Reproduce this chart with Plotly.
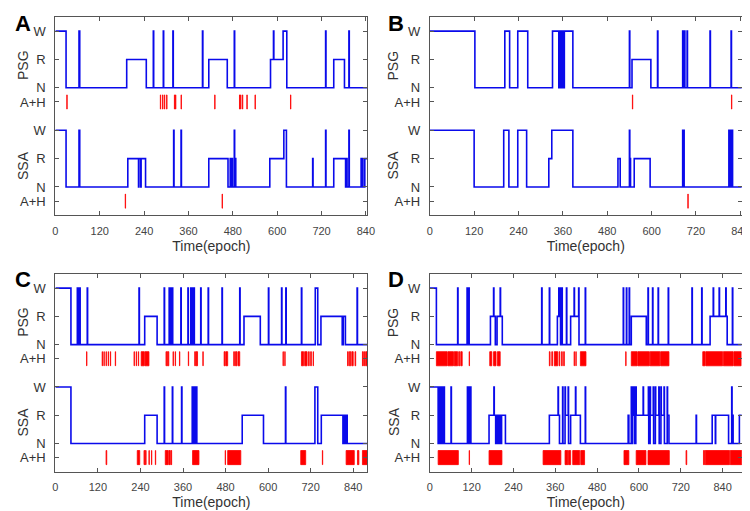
import plotly.graph_objects as go

# ---------------- DATA ----------------
# Hypnograms as change points (epoch, stage)
A_psg = [(0,'W'),(29,'N'),(64,'W'),(66,'N'),(193,'R'),(246,'N'),(265,'W'),(266,'N'),(292,'W'),(293,'N'),
         (318,'W'),(319,'N'),(398,'W'),(399,'N'),(415,'R'),(465,'N'),(484,'W'),(485,'N'),(582,'R'),(590,'W'),
         (591,'R'),(616,'W'),(626,'N'),(731,'W'),(732,'N'),(753,'R'),(782,'N'),(794,'W'),(795,'N')]
A_ssa = [(0,'W'),(29,'N'),(64,'W'),(66,'N'),(196,'R'),(225,'N'),(226,'R'),(231,'N'),(232,'R'),(244,'N'),
         (320,'W'),(321,'N'),(340,'W'),(341,'N'),(415,'R'),(467,'N'),(473,'R'),(474,'N'),(478,'R'),(479,'N'),
         (484,'W'),(485,'R'),(488,'N'),(580,'R'),(618,'W'),(625,'N'),(696,'R'),(697,'N'),(731,'W'),(732,'N'),
         (753,'R'),(785,'N'),(786,'R'),(789,'N'),(794,'W'),(795,'N'),(827,'R'),(828,'N'),(831,'R'),(832,'N'),(837,'R')]
B_psg = [(0,'W'),(122,'N'),(203,'W'),(216,'N'),(238,'W'),(265,'N'),(332,'W'),(349,'N'),(351,'W'),(355,'N'),
         (357,'W'),(360,'N'),(364,'W'),(387,'N'),(540,'W'),(541,'N'),(547,'R'),(598,'N'),(616,'W'),(617,'N'),
         (684,'W'),(685,'N'),(689,'W'),(690,'N'),(696,'W'),(697,'N'),(758,'W'),(759,'N'),(815,'W'),(816,'N')]
B_ssa = [(0,'W'),(120,'N'),(200,'W'),(214,'N'),(238,'W'),(262,'N'),(322,'R'),(330,'W'),(387,'N'),(509,'R'),
         (515,'N'),(540,'W'),(541,'R'),(543,'N'),(553,'R'),(596,'N'),(684,'W'),(688,'N'),(809,'W'),(810,'N'),
         (813,'W'),(814,'N'),(817,'W'),(819,'N')]
C_psg = [(0,'W'),(44,'N'),(62,'W'),(63,'N'),(66,'W'),(67,'N'),(69,'W'),(70,'N'),(90,'W'),(91,'N'),(236,'W'),
         (237,'N'),(252,'R'),(287,'N'),(307,'W'),(308,'N'),(321,'W'),(322,'N'),(326,'W'),(327,'N'),(330,'W'),
         (331,'N'),(354,'W'),(355,'N'),(374,'W'),(375,'N'),(382,'W'),(383,'N'),(387,'W'),(388,'N'),(391,'W'),
         (392,'N'),(410,'W'),(411,'N'),(431,'W'),(432,'N'),(470,'W'),(471,'N'),(520,'W'),(521,'N'),(532,'R'),
         (578,'N'),(601,'W'),(602,'N'),(638,'W'),(639,'N'),(650,'W'),(651,'N'),(694,'W'),(695,'N'),(733,'W'),
         (740,'N'),(749,'R'),(809,'N'),(812,'R'),(818,'N'),(851,'W'),(852,'N')]
C_ssa = [(0,'W'),(44,'N'),(252,'R'),(287,'N'),(307,'W'),(308,'N'),(330,'W'),(331,'N'),(356,'W'),(357,'N'),
         (386,'W'),(388,'N'),(389,'W'),(392,'N'),(393,'W'),(396,'N'),(397,'W'),(399,'N'),(527,'R'),(587,'N'),
         (649,'W'),(650,'N'),(732,'W'),(740,'N'),(750,'R'),(811,'N'),(812,'R'),(814,'N'),(815,'R'),(818,'N'),
         (819,'R'),(823,'N')]
D_psg = [(0,'W'),(19,'N'),(80,'W'),(81,'N'),(107,'W'),(108,'N'),(112,'W'),(113,'N'),(174,'R'),(183,'W'),
         (184,'R'),(188,'N'),(193,'R'),(202,'W'),(203,'R'),(208,'N'),(321,'W'),(322,'N'),(343,'W'),(344,'N'),
         (366,'R'),(370,'W'),(371,'R'),(374,'W'),(375,'N'),(379,'W'),(380,'N'),(392,'W'),(393,'N'),(404,'R'),
         (414,'W'),(415,'R'),(427,'W'),(428,'N'),(446,'W'),(447,'N'),(555,'W'),(556,'N'),(564,'W'),(565,'N'),
         (572,'W'),(573,'N'),(578,'R'),(621,'N'),(626,'W'),(627,'N'),(639,'W'),(640,'N'),(655,'W'),(656,'N'),
         (684,'W'),(685,'N'),(752,'W'),(753,'N'),(780,'W'),(781,'N'),(804,'R'),(813,'W'),(814,'R'),(830,'W'),
         (831,'R'),(849,'W'),(850,'R'),(853,'N'),(868,'W'),(869,'N')]
D_ssa = [(0,'W'),(24,'N'),(27,'W'),(30,'N'),(33,'W'),(36,'N'),(39,'W'),(42,'N'),(61,'W'),(62,'N'),(108,'W'),
         (110,'N'),(112,'W'),(114,'N'),(116,'W'),(118,'N'),(170,'R'),(184,'W'),(185,'R'),(189,'N'),(191,'R'),
         (194,'N'),(196,'R'),(199,'N'),(201,'R'),(204,'N'),(206,'R'),(217,'N'),(343,'R'),(368,'W'),(369,'R'),
         (372,'N'),(381,'W'),(382,'N'),(388,'W'),(389,'R'),(397,'W'),(398,'N'),(404,'R'),(418,'W'),(419,'R'),
         (432,'N'),(446,'W'),(447,'N'),(569,'R'),(571,'N'),(578,'W'),(580,'N'),(582,'W'),(584,'R'),(586,'W'),
         (588,'N'),(591,'W'),(592,'R'),(612,'W'),(613,'R'),(627,'W'),(628,'N'),(632,'W'),(633,'R'),(641,'W'),
         (642,'N'),(647,'W'),(648,'R'),(657,'W'),(658,'N'),(663,'W'),(664,'R'),(672,'W'),(673,'N'),(681,'W'),
         (682,'R'),(686,'N'),(764,'R'),(765,'N'),(810,'R'),(819,'N'),(820,'R'),(857,'N'),(866,'W'),(867,'N'),
         (869,'R'),(870,'N'),(888,'R')]

# Apnea + hypopnea events (start epoch, end epoch)
A_psg_ev = [(31,32),(284,285),(290,291),(295,296),(301,302),(322,323),(325,326),(340,341),(431,432),
            (498,499),(501,502),(506,507),(518,519),(540,541),(636,637)]
A_ssa_ev = [(189,190),(451,452)]
B_psg_ev = [(548,549),(816,817)]
B_ssa_ev = [(698,699)]
C_psg_ev = [(88,89),(132,133),(137,138),(143,144),(149,150),(155,156),(169,170),(222,223),(228,229),
            (234,235),(242,251),(253,264),(312,314),(316,320),(332,333),(338,339),(350,351),(375,376),
            (393,395),(397,401),(416,417),(476,479),(481,486),(503,505),(508,512),(515,520),(642,643),
            (647,648),(694,700),(703,710),(714,716),(720,722),(727,728),(824,826),(829,833),(836,840),
            (845,847),(866,868),(870,872),(875,880)]
C_ssa_ev = [(143,145),(231,238),(250,252),(254,256),(264,265),(271,272),(282,283),(310,318),(320,324),
            (326,328),(387,405),(479,480),(486,523),(692,706),(753,754),(820,843),(852,856),(866,880)]
D_psg_ev = [(19,50),(52,68),(70,80),(83,86),(89,93),(113,114),(172,178),(183,190),(194,202),(343,345),
            (350,352),(357,367),(371,373),(378,380),(384,386),(414,415),(419,420),(432,448),(562,563),
            (578,595),(597,630),(632,660),(662,686),(783,790),(792,840),(842,870),(872,893)]
D_ssa_ev = [(24,82),(113,114),(170,207),(325,376),(388,396),(398,404),(410,430),(433,444),(557,571),
            (592,620),(626,687),(735,737),(785,788),(790,860),(862,895)]

# Panel info
labels = ['A', 'B', 'C', 'D']
x_end = [844, 844, 880, 895]
xticks = [0, 120, 240, 360, 480, 600, 720, 840]
ytick_vals = [1, 1.5, 2.5, 3.5, 4.5, 5, 6, 7]
ytick_text = ['A+H', 'N', 'R', 'W', 'A+H', 'N', 'R', 'W']

# ---------------- FIGURE ----------------
W_, H_ = 750, 511
BLUE = 'rgb(10,10,235)'
RED = 'rgb(255,0,0)'
PSG_N, SSA_N = 5.0, 1.5
PSG_AH, SSA_AH = 4.5, 1.0
stage_off = {'N': 0, 'R': 1, 'W': 2}

panels = [
    (A_psg, A_ssa, A_psg_ev, A_ssa_ev),
    (B_psg, B_ssa, B_psg_ev, B_ssa_ev),
    (C_psg, C_ssa, C_psg_ev, C_ssa_ev),
    (D_psg, D_ssa, D_psg_ev, D_ssa_ev),
]
# pixel boxes: left, right, top, bottom
boxes = [(45, 361.7, 9, 207.3), (425, 741.7, 9, 207.3),
         (45, 361.7, 266, 463.7), (425, 741.7, 266, 463.7)]

fig = go.Figure()

def step_trace(seq, base, xend, ax):
    xs = [t for t, s in seq] + [xend]
    ys = [base + stage_off[s] for t, s in seq] + [base + stage_off[seq[-1][1]]]
    return go.Scatter(x=xs, y=ys, mode='lines', line=dict(color=BLUE, width=1.6, shape='hv'),
                      xaxis='x' + ax, yaxis='y' + ax, hoverinfo='skip', showlegend=False)

def event_trace(evs, center, ax):
    xs, ys = [], []
    lo, hi = center - 0.25, center + 0.25
    for s, e in evs:
        xs += [s, e, e, s, s, None]
        ys += [lo, lo, hi, hi, lo, None]
    return go.Scatter(x=xs, y=ys, mode='lines', fill='toself', fillcolor=RED,
                      line=dict(color=RED, width=0.8), xaxis='x' + ax, yaxis='y' + ax,
                      hoverinfo='skip', showlegend=False)

layout = dict(width=W_, height=H_, margin=dict(l=0, r=0, t=0, b=0),
              paper_bgcolor='white', plot_bgcolor='white', showlegend=False)
annotations = []
for i, (psg, ssa, pev, sev) in enumerate(panels):
    ax = '' if i == 0 else str(i + 1)
    axn = str(i + 1) if i else ''
    xe = x_end[i]
    fig.add_trace(step_trace(psg, PSG_N, xe, ax))
    fig.add_trace(step_trace(ssa, SSA_N, xe, ax))
    fig.add_trace(event_trace(pev, PSG_AH, ax))
    fig.add_trace(event_trace(sev, SSA_AH, ax))
    l, r, t, b = boxes[i]
    layout['xaxis' + axn] = dict(
        domain=[l / W_, r / W_], range=[0, xe], tickvals=xticks, ticks='inside', ticklen=4,
        tickcolor='#555', showline=True, linecolor='#555', linewidth=1, mirror='ticks',
        showgrid=False, zeroline=False, anchor='y' + ax, ticklabelstandoff=5,
        tickfont=dict(family='Liberation Sans', size=11, color='#444'),
        title=dict(text='Time(epoch)', font=dict(family='Liberation Sans', size=14, color='#333'),
                   standoff=5))
    layout['yaxis' + axn] = dict(
        domain=[1 - b / H_, 1 - t / H_], range=[0.5, 7.5], tickvals=ytick_vals, ticktext=ytick_text,
        ticks='inside', ticklen=4, tickcolor='#555', showline=True, linecolor='#555', linewidth=1,
        mirror='ticks', showgrid=False, zeroline=False, anchor='x' + ax, ticklabelstandoff=6,
        tickfont=dict(family='Liberation Sans', size=13, color='#333'))
    # stage-axis titles
    tx = (12 if i % 2 == 0 else 388) / W_
    for txt, yv in (('PSG', 5.8), ('SSA', 2.27)):
        annotations.append(dict(text=txt, x=tx, y=yv, xref='paper', yref='y' + ax, showarrow=False,
                                textangle=-90, xanchor='center', yanchor='middle',
                                font=dict(family='Liberation Sans', size=14, color='#333')))
    # panel letters
    lx = (2 if i % 2 == 0 else 381) / W_
    ly = 1 - ((1 if i < 2 else 257)) / H_
    annotations.append(dict(text='<b>%s</b>' % labels[i], x=lx, y=ly, xref='paper', yref='paper',
                            showarrow=False, xanchor='left', yanchor='top',
                            font=dict(family='Liberation Sans', size=22, color='black')))
layout['annotations'] = annotations
fig.update_layout(**layout)
fig.write_html('out.html')
